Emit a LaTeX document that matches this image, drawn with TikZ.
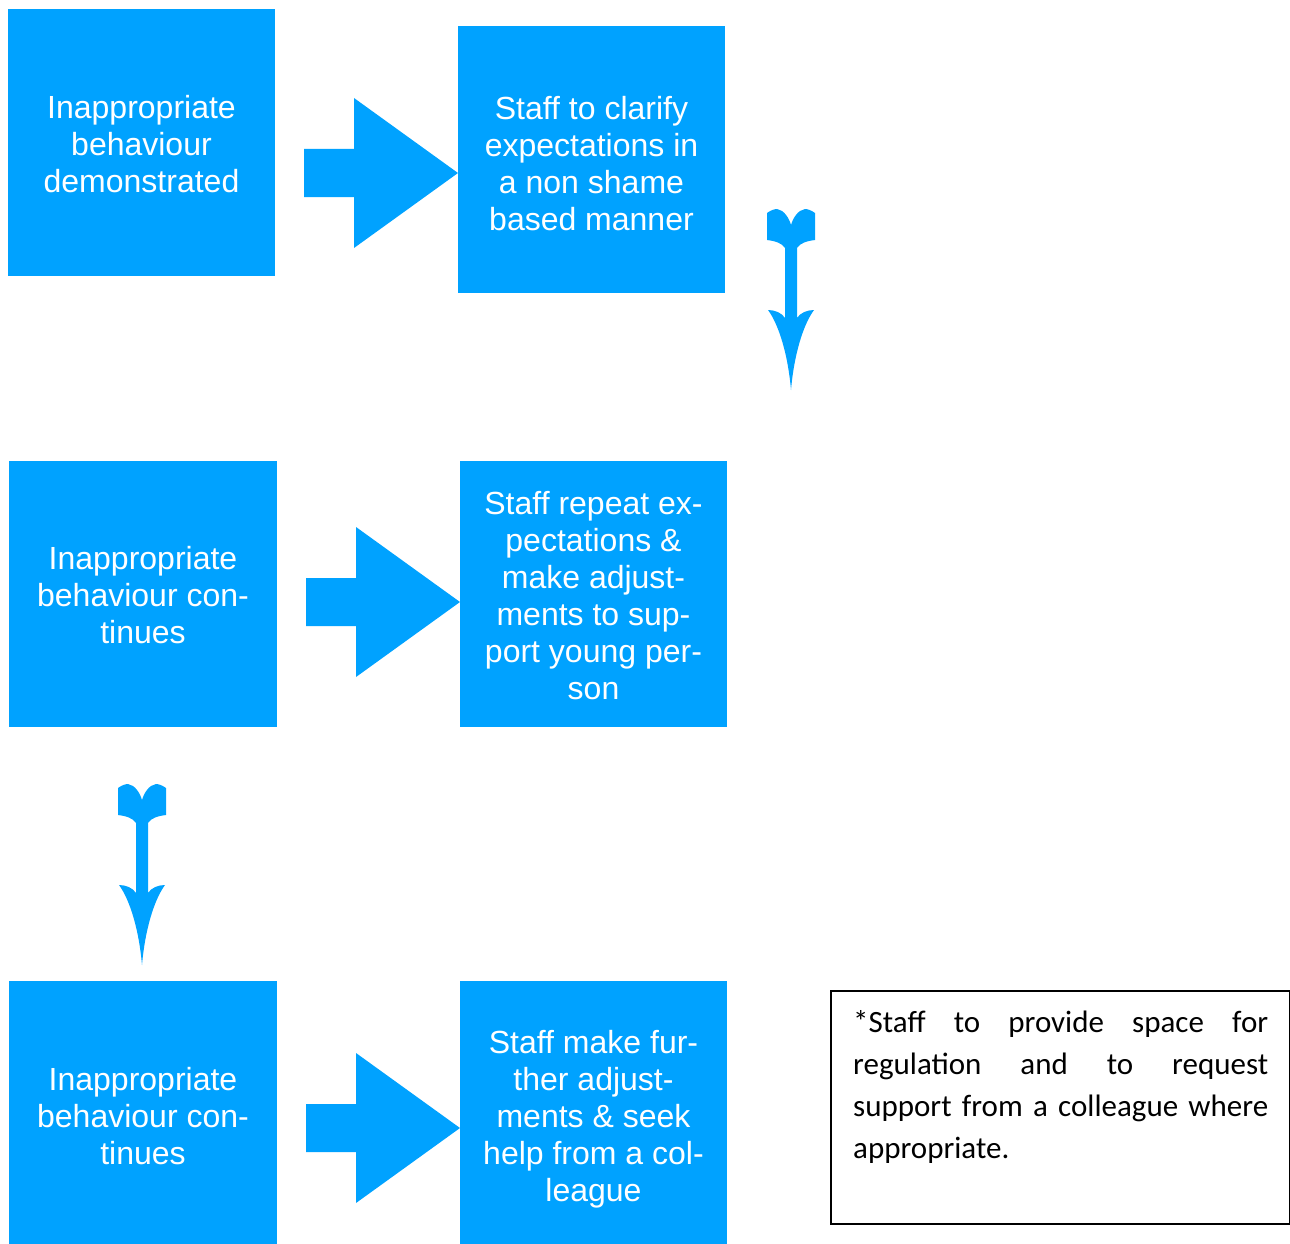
\documentclass[tikz,border=0pt]{standalone}
\usepackage{fontspec}
\setmainfont{Liberation Sans}
\newfontfamily\boxfont{Liberation Sans}
\newfontfamily\notefont{Carlito}
\definecolor{flowblue}{RGB}{0,162,255}
\tikzset{
  bluebox/.style={fill=flowblue, draw=none, inner sep=0pt},
  boxtext/.style={inner sep=0pt, text=white, align=center,
    font=\boxfont\fontsize{32}{37}\selectfont},
  blockarrow/.style={fill=flowblue, draw=none},
  rarrow/.pic={
    \path[blockarrow] (0,0) -- (-104,-75) -- (-104,-24) -- (-154,-24) -- (-154,24) -- (-104,24) -- (-104,75) -- cycle;
  },
  darrow/.pic={
    \path[blockarrow] (-24,3) .. controls (-20,0) and (-16,-1) .. (-14,-1)
      .. controls (-7,0) and (-2,8) .. (0,15)
      .. controls (2,8) and (7,0) .. (14,-1)
      .. controls (16,-1) and (20,0) .. (24,3)
      -- (24,30) .. controls (16,31) and (9,33) .. (6,38)
      -- (6,108) .. controls (9,103) and (16,100) .. (23,100)
      .. controls (12,115) and (3,145) .. (0,180)
      .. controls (-3,145) and (-12,115) .. (-23,100)
      .. controls (-16,100) and (-9,103) .. (-6,108)
      -- (-6,38) .. controls (-9,33) and (-16,31) .. (-24,30) -- cycle;
  }
}
\begin{document}
\begin{tikzpicture}[x=1pt,y=-1pt]
\useasboundingbox (0,0) rectangle (1290,1244);
% boxes
\node[bluebox, minimum width=267, minimum height=267] (b1) at (141.5,142.5) {};
\node[bluebox, minimum width=267, minimum height=267] (b2) at (591.5,159.5) {};
\node[bluebox, minimum width=268, minimum height=266] (b3) at (143,594) {};
\node[bluebox, minimum width=267, minimum height=266] (b4) at (593.5,594) {};
\node[bluebox, minimum width=268, minimum height=263] (b5) at (143,1112.5) {};
\node[bluebox, minimum width=267, minimum height=263] (b6) at (593.5,1112.5) {};
% box texts
\node[boxtext] (t1) at ([yshift=-2pt]b1.center) {Inappropriate\\behaviour\\demonstrated};
\node[boxtext] (t2) at ([yshift=-4pt]b2.center) {Staff to clarify\\expectations in\\a non shame\\based manner};
\node[boxtext] (t3) at ([yshift=-1pt]b3.center) {Inappropriate\\behaviour con-\\tinues};
\node[boxtext] (t4) at ([yshift=-2pt]b4.center) {Staff repeat ex-\\pectations \&\\make adjust-\\ments to sup-\\port young per-\\son};
\node[boxtext] (t5) at ([yshift=-4pt]b5.center) {Inappropriate\\behaviour con-\\tinues};
\node[boxtext] (t6) at ([yshift=-7pt]b6.center) {Staff make fur-\\ther adjust-\\ments \& seek\\help from a col-\\league};
% arrows
\pic at (458,173) {rarrow};
\pic at (460,602) {rarrow};
\pic at (460,1128) {rarrow};
\pic at (791,210) {darrow};
\pic at (142,785) {darrow};
% note
\node[draw=black, line width=1.5pt, minimum width=459, minimum height=233, inner sep=0pt, anchor=north west] (note) at (830,990) {};
\node[anchor=north west, inner sep=0pt, text width=415, align=justify,
  font=\notefont\fontsize{31}{42}\selectfont] (notetext) at (853,1010)
  {*Staff to provide space for\linebreak regulation and to request\linebreak support from a colleague where\linebreak appropriate.};
\end{tikzpicture}
\end{document}
